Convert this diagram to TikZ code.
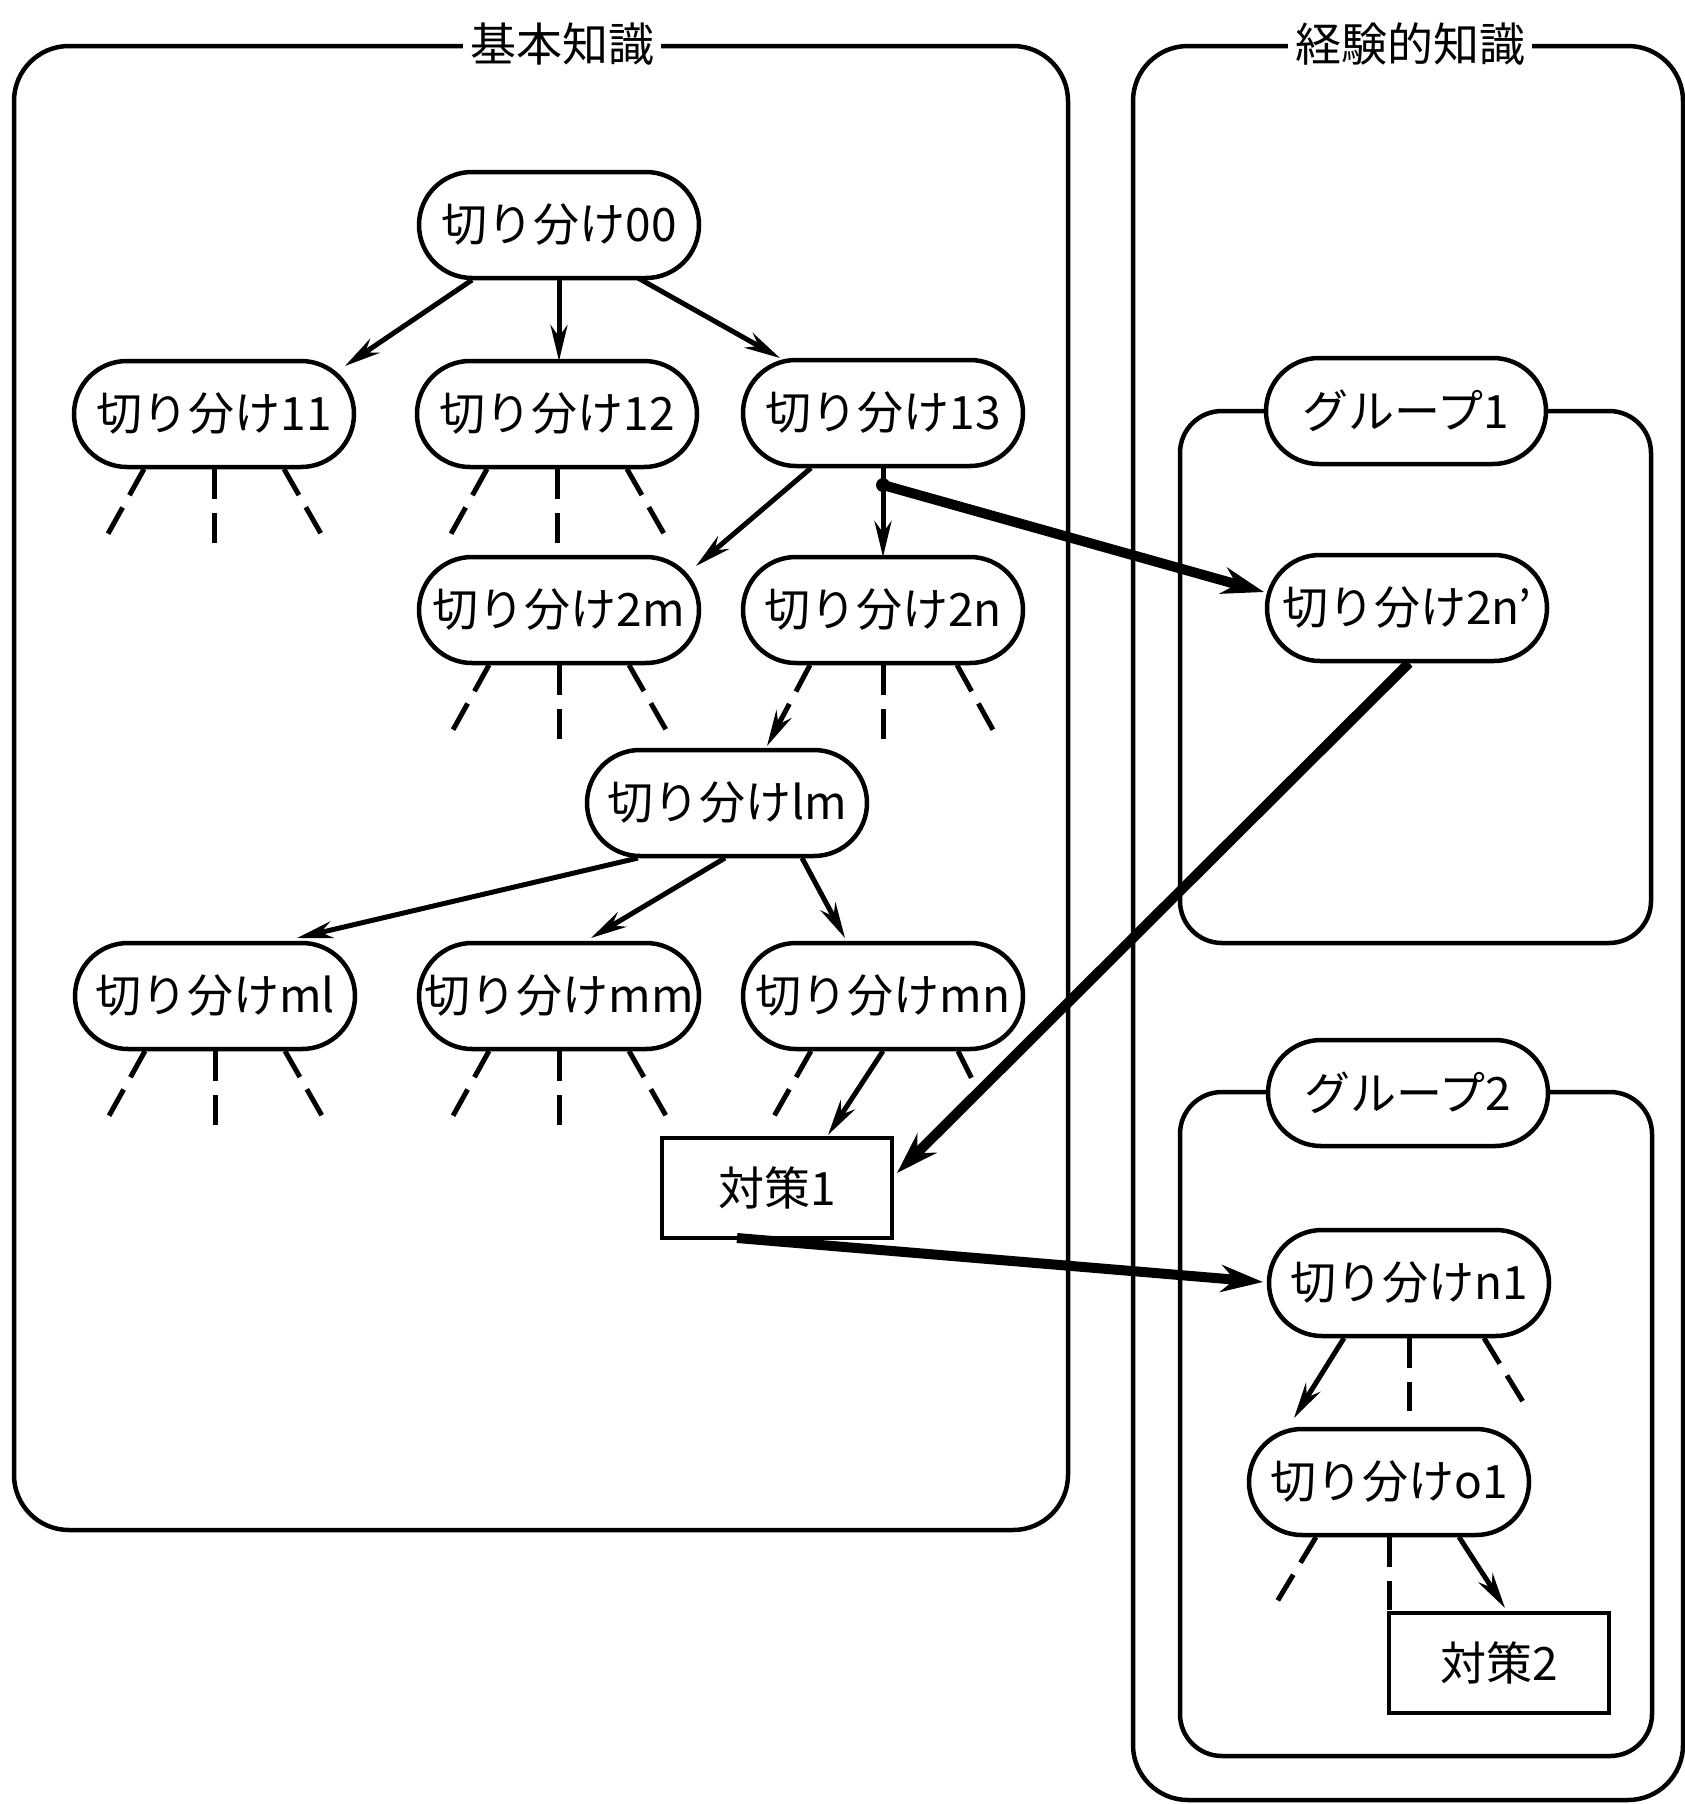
\documentclass[tikz,border=0pt]{standalone}
\usepackage{fontspec}
\setmainfont{Noto Sans CJK JP}
\usetikzlibrary{arrows.meta,shapes.misc,calc}
\begin{document}
\begin{tikzpicture}[x=1pt,y=-1pt,
  txt/.style={font=\fontsize{46}{50}\selectfont},
  kn/.style={rounded rectangle, draw, line width=4.5pt, fill=white, minimum width=280pt, minimum height=106pt, inner sep=0pt, txt},
  act/.style={rectangle, draw, line width=4.5pt, fill=white, inner sep=0pt, minimum width=230pt, minimum height=100pt, txt},
  ttl/.style={fill=white, inner xsep=7pt, inner ysep=2pt, txt},
  arr/.style={line width=5pt, -{Stealth[length=36pt,width=17pt]}},
  tarr/.style={line width=10pt, -{Stealth[length=42pt,width=27pt]}},
  leg/.style={line width=5pt, dash pattern=on 30pt off 14pt},
  bigbox/.style={line width=4.5pt, rounded corners=55pt},
  grpbox/.style={line width=4.5pt, rounded corners=42pt},
]
\fill[white] (0,0) rectangle (1685,1804);
\useasboundingbox (0,0) rectangle (1685,1804);

% outer boxes
\draw[bigbox] (14,46) rectangle (1068,1530);
\draw[bigbox] (1133,46) rectangle (1683,1800);
\node[ttl] (tk) at (562,44) {基本知識};
\node[ttl] (te) at (1410,44) {経験的知識};

% group boxes
\draw[grpbox] (1180,411) rectangle (1651,943);
\draw[grpbox] (1180,1092) rectangle (1652,1756);
\node[kn] (g1) at (1406,411) {グループ1};
\node[kn] (g2) at (1408,1093) {グループ2};

% nodes
\node[kn] (n00) at (559,225) {切り分け00};
\node[kn] (n11) at (214,414) {切り分け11};
\node[kn] (n12) at (557,414) {切り分け12};
\node[kn] (n13) at (883,413) {切り分け13};
\node[kn] (n2m) at (559,610) {切り分け2m};
\node[kn] (n2n) at (883,610) {切り分け2n};
\node[kn] (nlm) at (727,803) {切り分けlm};
\node[kn] (nml) at (215,996) {切り分けml};
\node[kn] (nmm) at (559,996) {切り分けmm};
\node[kn] (nmn) at (883,996) {切り分けmn};
\node[act] (t1) at (777,1188) {対策1};
\node[kn] (n2np) at (1407,608) {切り分け2n’};
\node[kn] (nn1) at (1409,1283) {切り分けn1};
\node[kn] (no1) at (1389,1482) {切り分けo1};
\node[act, minimum width=220pt] (t2) at (1499,1663) {対策2};

% dashed legs
\foreach \n in {n11,n12,n2m,nml,nmm} {
  \draw[leg] ($(\n)+(-70,55)$) -- ($(\n)+(-110,127)$);
  \draw[leg] ($(\n)+(0,55)$) -- ($(\n)+(0,130)$);
  \draw[leg] ($(\n)+(70,55)$) -- ($(\n)+(110,125)$);
}
\draw[leg] ($(n2n)+(0,55)$) -- ($(n2n)+(0,130)$);
\draw[leg] ($(n2n)+(74,55)$) -- ($(n2n)+(114,127)$);
\draw[leg] ($(nmn)+(-72,55)$) -- ($(nmn)+(-110,122)$);
\draw[leg] ($(nmn)+(75,55)$) -- ($(nmn)+(95,95)$);
\draw[leg] ($(nn1)+(0,55)$) -- ($(nn1)+(0,128)$);
\draw[leg] ($(nn1)+(75,55)$) -- ($(nn1)+(116,122)$);
\draw[leg] ($(no1)+(-73,55)$) -- ($(no1)+(-114,123)$);
\draw[leg] ($(no1)+(0,55)$) -- ($(no1)+(0,128)$);

% arrows
\draw[arr] ($(n00)+(-87,55)$) -- ($(n11)+(131,-48)$);
\draw[arr] ($(n00)+(0,53)$) -- ($(n12)+(2,-53)$);
\draw[arr] ($(n00)+(79,53)$) -- ($(n13)+(-103,-55)$);
\draw[arr] ($(n13)+(-72,55)$) -- ($(n2m)+(137,-44)$);
\draw[arr] ($(n13)+(0,53)$) -- ($(n2n)+(0,-53)$);
\draw[leg, -{Stealth[length=36pt,width=17pt]}] ($(n2n)+(-73,55)$) -- ($(nlm)+(40,-57)$);
\draw[arr] ($(nlm)+(-89,55)$) -- ($(nml)+(82,-58)$);
\draw[arr] ($(nlm)+(-2,55)$) -- ($(nmm)+(32,-58)$);
\draw[arr] ($(nlm)+(75,55)$) -- ($(nmn)+(-38,-58)$);
\draw[arr] ($(nmn)+(0,55)$) -- ($(t1)+(51,-53)$);
\draw[arr] ($(nn1)+(-65,55)$) -- ($(no1)+(-95,-64)$);
\draw[arr] ($(no1)+(70,55)$) -- ($(t2)+(6,-55)$);

% thick arrows
\coordinate (j) at ($(n13)+(0,72)$);
\fill (j) circle (7);
\draw[tarr] (j) -- ($(n2np)+(-143,-16)$);
\draw[tarr] ($(n2np)+(2,55)$) -- ($(t1)+(120,-15)$);
\draw[tarr] ($(t1)+(-40,50)$) -- ($(nn1)+(-146,-1)$);
\end{tikzpicture}
\end{document}
